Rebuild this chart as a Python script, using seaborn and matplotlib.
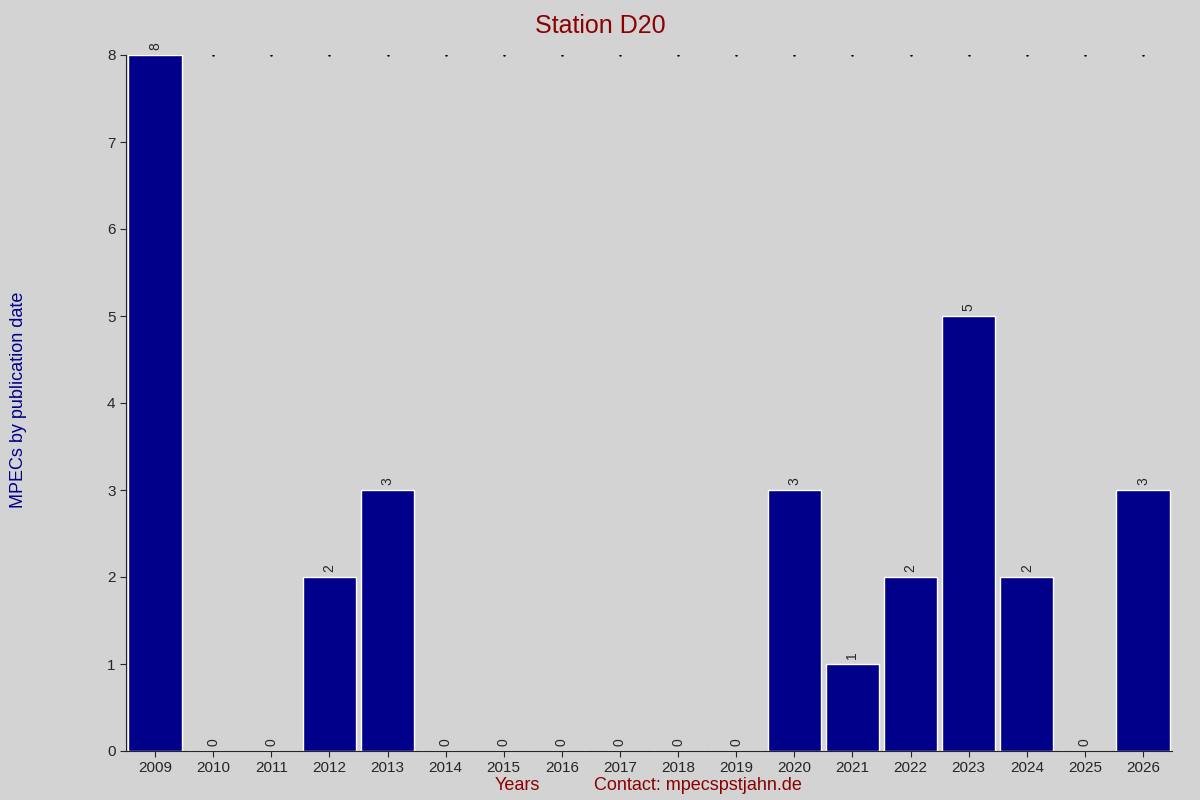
import matplotlib
matplotlib.use("Agg")
import matplotlib.pyplot as plt
import seaborn as sns
import pandas as pd

years = [str(y) for y in range(2009, 2027)]
counts = [8, 0, 0, 2, 3, 0, 0, 0, 0, 0, 0, 3, 1, 2, 5, 2, 0, 3]

sns.set_style("ticks")
plt.rcParams['font.family'] = ['Liberation Sans', 'DejaVu Sans']
bg = "#d3d3d3"
fig = plt.figure(figsize=(12, 8), dpi=100, facecolor=bg)
ax = fig.add_axes([0.105, 0.06125, 0.8717, 0.87])
ax.set_facecolor(bg)
df = pd.DataFrame({"year": years, "n": counts})
sns.barplot(data=df, x="year", y="n", color="#00008b", saturation=1, width=0.92, ax=ax)
for i, v in enumerate(counts):
    ax.text(i, v + 0.06, str(v), rotation=90, ha="center", va="bottom", fontsize=10)
ax.plot(range(1, len(years)), [max(counts)] * (len(years) - 1), ls="none", marker=".", ms=1.5, color="black")
ax.set_xlim(-0.5, len(years) - 0.5)
ax.set_ylim(0, max(counts))
ax.set_yticks(range(0, 9))
ax.tick_params(labelsize=11, length=4)
for s in ["top", "right"]:
    ax.spines[s].set_visible(False)
ax.set_xlabel("")
ax.set_ylabel("")
fig.text(0.5, 0.982, "Station D20", ha="center", va="top", color="#8b0000", fontsize=18)
fig.text(0.0085, 0.5, "MPECs by publication date", rotation=90, ha="left", va="center", color="#00008b", fontsize=13)
fig.text(0.431, 0.0175, "Years", ha="center", va="center", color="#8b0000", fontsize=13)
fig.text(0.582, 0.0175, "Contact: mpecspstjahn.de", ha="center", va="center", color="#8b0000", fontsize=13)
fig.savefig("out.png", dpi=100, facecolor=bg)
